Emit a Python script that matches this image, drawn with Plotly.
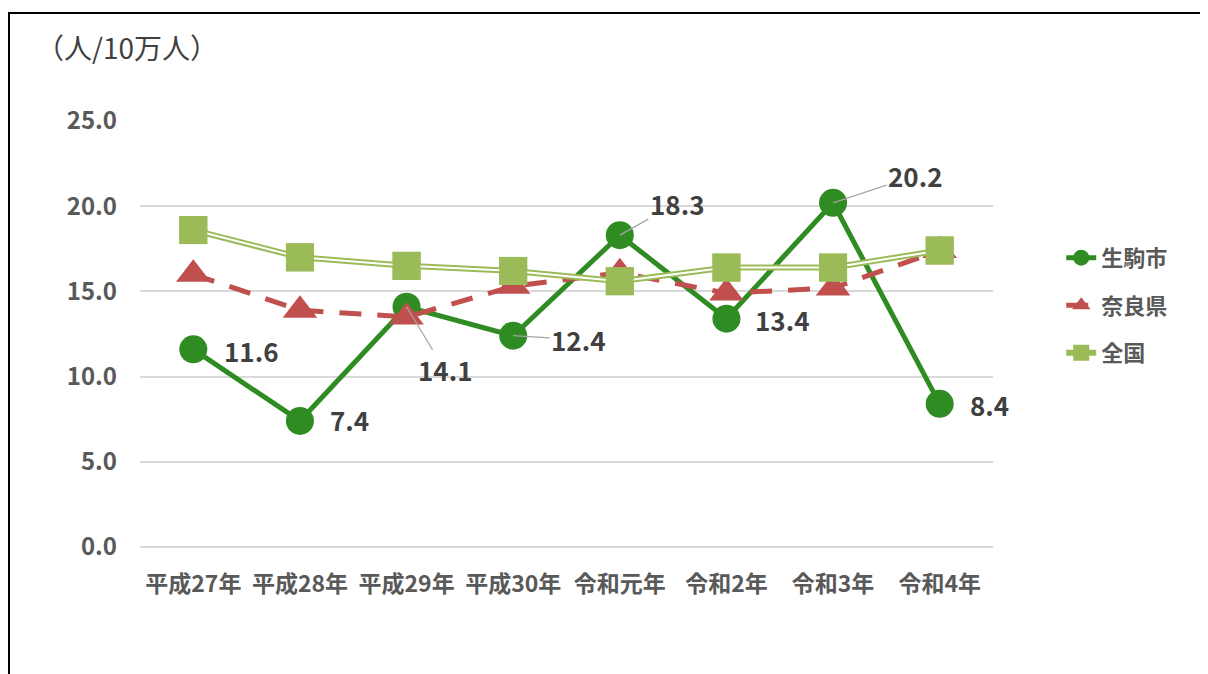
import plotly.graph_objects as go

categories = ["平成27年", "平成28年", "平成29年", "平成30年", "令和元年", "令和2年", "令和3年", "令和4年"]
ikoma = [11.6, 7.4, 14.1, 12.4, 18.3, 13.4, 20.2, 8.4]
nara = [16.0, 13.9, 13.5, 15.3, 16.1, 14.9, 15.2, 17.4]
zenkoku = [18.6, 17.0, 16.5, 16.2, 15.6, 16.4, 16.4, 17.4]
y_ticks = [0, 5, 10, 15, 20, 25]
y_tick_labels = ["0.0", "5.0", "10.0", "15.0", "20.0", "25.0"]

# label placement (pixel offsets from point to label centre, and whether a leader line is drawn)
label_offsets = [(58, 1, False), (50, -1, False), (38, 63, True), (65, 4, True),
                 (57, -32, True), (56, 1, False), (82, -27, True), (50, 1, False)]

C_IKOMA = "#2F8C22"
C_NARA = "#C0504D"
C_ZEN = "#9BBB59"
TXT = "#595959"
FONT = "Noto Sans CJK JP"

fig = go.Figure()

fig.add_trace(go.Scatter(
    x=categories, y=ikoma, name="生駒市", mode="lines+markers",
    line=dict(color=C_IKOMA, width=5),
    marker=dict(symbol="circle", size=28, color=C_IKOMA),
    legendgroup="a"))

fig.add_trace(go.Scatter(
    x=categories, y=nara, name="奈良県", mode="lines+markers",
    line=dict(color=C_NARA, width=5, dash="22px,16px"),
    marker=dict(symbol="triangle-up", size=30, color=C_NARA),
    legendgroup="b"))

fig.add_trace(go.Scatter(
    x=categories, y=zenkoku, name="全国", mode="lines+markers",
    line=dict(color=C_ZEN, width=6),
    marker=dict(symbol="square", size=28, color=C_ZEN),
    legendgroup="c"))
fig.add_trace(go.Scatter(
    x=categories, y=zenkoku, mode="lines", showlegend=False, hoverinfo="skip",
    line=dict(color="white", width=2), legendgroup="c"))
fig.add_trace(go.Scatter(
    x=categories, y=zenkoku, mode="markers", showlegend=False, hoverinfo="skip",
    marker=dict(symbol="square", size=28, color=C_ZEN), legendgroup="c"))

LABEL_FONT = dict(family=FONT, size=26, color="#404040", weight="bold")
for cat, val, (dx, dy, arrow) in zip(categories, ikoma, label_offsets):
    if arrow:
        fig.add_annotation(x=cat, y=val, text=f"{val:.1f}", showarrow=True,
                           ax=dx, ay=dy, arrowhead=0, arrowwidth=1.3,
                           arrowcolor="#A6A6A6", standoff=0, startstandoff=0,
                           font=LABEL_FONT)
    else:
        fig.add_annotation(x=cat, y=val, text=f"{val:.1f}", showarrow=False,
                           xshift=dx, yshift=-dy, font=LABEL_FONT)

fig.add_annotation(xref="paper", yref="paper", x=-0.124, y=1.174, xanchor="left",
                   yanchor="middle", text="（人/10万人）", showarrow=False,
                   font=dict(family=FONT, size=28, color="#404040"))

# outer frame (right edge runs past the visible area)
fig.add_shape(type="rect", xref="paper", yref="paper",
              x0=-0.1536, x1=1.35, y0=-0.32, y1=1.2535,
              line=dict(color="black", width=2), fillcolor="rgba(0,0,0,0)")

fig.update_layout(
    width=1200, height=666,
    margin=dict(l=132, r=215, t=113, b=127),
    plot_bgcolor="white", paper_bgcolor="white",
    font=dict(family=FONT, color=TXT),
    xaxis=dict(range=[-0.5, 7.5], showgrid=False, zeroline=False, showline=False,
               ticks="", ticklabelstandoff=21,
               tickfont=dict(size=23, color=TXT, weight="bold")),
    yaxis=dict(range=[0, 25], tickvals=y_ticks, ticktext=y_tick_labels,
               showgrid=True, gridcolor="#D9D9D9", gridwidth=1.5,
               zeroline=True, zerolinecolor="#D9D9D9", zerolinewidth=1.5,
               showline=False, ticks="", ticklabelstandoff=22,
               tickfont=dict(size=24, color=TXT, weight="bold")),
    legend=dict(x=1.08, y=0.728, xanchor="left", yanchor="top",
                traceorder="grouped", tracegroupgap=16,
                font=dict(size=22, color=TXT, weight="bold"),
                bgcolor="rgba(0,0,0,0)"),
    showlegend=True,
)

fig.write_html("out.html")
